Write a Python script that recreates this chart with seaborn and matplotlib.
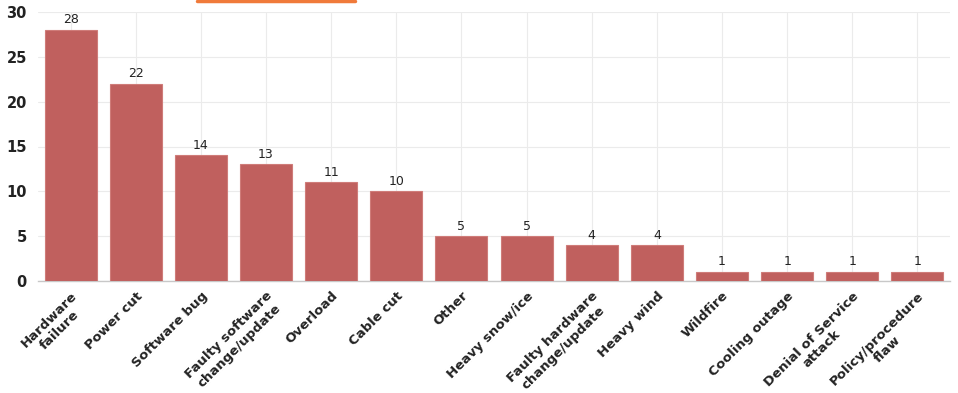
import matplotlib
matplotlib.use("Agg")
import matplotlib.pyplot as plt
import matplotlib.lines as mlines
import seaborn as sns
import pandas as pd

# Outage causes and their counts
causes = ["Hardware\nfailure", "Power cut", "Software bug", "Faulty software\nchange/update",
          "Overload", "Cable cut", "Other", "Heavy snow/ice", "Faulty hardware\nchange/update",
          "Heavy wind", "Wildfire", "Cooling outage", "Denial of Service\nattack",
          "Policy/procedure\nflaw"]
counts = [28, 22, 14, 13, 11, 10, 5, 5, 4, 4, 1, 1, 1, 1]
yticks = [0, 5, 10, 15, 20, 25, 30]

df = pd.DataFrame({"cause": causes, "count": counts})

sns.set_style("white")
plt.rcParams['font.family'] = ['DejaVu Sans']

fig = plt.figure(figsize=(9.58, 3.93), dpi=100)
ax = fig.add_axes([38 / 958, 1 - 281 / 393, 912 / 958, 269 / 393])

sns.barplot(data=df, x="cause", y="count", color="#c0605e", saturation=1,
            width=0.8, edgecolor="#cf7c79", linewidth=0.8, ax=ax, zorder=3)

ax.set_xlim(-0.5, len(causes) - 0.5)
ax.set_ylim(0, 30)
ax.set_yticks(yticks)
ax.set_yticklabels([str(v) for v in yticks], fontsize=10.5, fontweight="bold", color="#222222")
ax.grid(True, color="#ebebeb", linewidth=0.8, zorder=0)
ax.set_axisbelow(True)
ax.set_xlabel("")
ax.set_ylabel("")

for s in ["top", "right", "left"]:
    ax.spines[s].set_visible(False)
ax.spines["bottom"].set_color("#c8c8c8")
ax.spines["bottom"].set_linewidth(1)

ax.tick_params(axis="y", length=0, pad=8)
ax.tick_params(axis="x", length=4, color="#c8c8c8", pad=2)
ax.set_xticks(range(len(causes)))
ax.set_xticklabels(causes, rotation=45, ha="right", rotation_mode="anchor",
                   fontsize=9.5, fontweight="bold", color="#222222", multialignment="center",
                   linespacing=1.15)

for i, v in enumerate(counts):
    ax.text(i, v + 0.4, str(v), ha="center", va="bottom", fontsize=9, color="#222222")

# orange accent line at the very top (cropped tab)
fig.add_artist(mlines.Line2D([197 / 958, 355 / 958], [1 - 1 / 393, 1 - 1 / 393],
                             color="#f07a3a", linewidth=2.5, transform=fig.transFigure))

fig.savefig("out.png", dpi=100)
